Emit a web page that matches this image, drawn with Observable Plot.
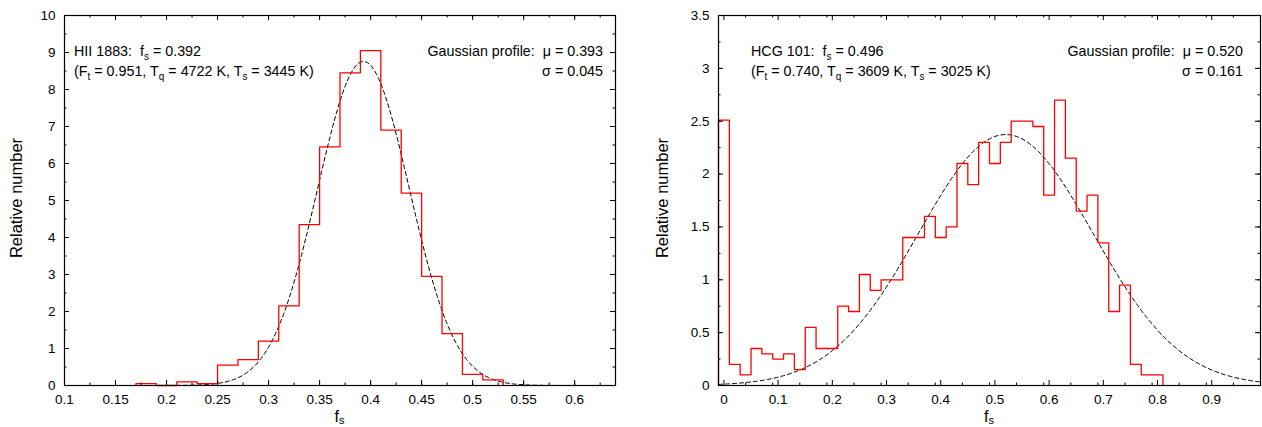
<!DOCTYPE html>
<html><head><meta charset="utf-8">
<script src="https://cdn.jsdelivr.net/npm/d3@7"></script>
<script src="https://cdn.jsdelivr.net/npm/@observablehq/plot@0.6"></script>
<style>
body{margin:0;background:#fff;}
#wrap{display:flex;width:1262px;height:427px;overflow:hidden;}
svg{font-family:"Liberation Sans",Arial,Helvetica,sans-serif;}
</style></head><body><div id="wrap"></div>
<script>
// ---------- Data: HII 1883 (left panel) ----------
const binWidth = 0.02;
const hiiBinLeft = [0.17,0.19,0.21,0.23,0.25,0.27,0.29,0.31,0.33,0.35,0.37,0.39,0.41,0.43,0.45,0.47,0.49,0.51];
const hiiValues  = [0.05,0,0.1,0.05,0.55,0.7,1.2,2.15,4.35,6.45,8.45,9.05,6.9,5.2,2.95,1.4,0.3,0.15];
const hiiGauss = {mu: 0.393, sigma: 0.045, peak: 8.76};
const hiiXTicks = [0.1,0.15,0.2,0.25,0.3,0.35,0.4,0.45,0.5,0.55,0.6];
const hiiYTicks = [0,1,2,3,4,5,6,7,8,9,10];

// ---------- Data: HCG 101 (right panel) ----------
const hcgBinLeft = [-0.01,0.01,0.03,0.05,0.07,0.09,0.11,0.13,0.15,0.17,0.19,0.21,0.23,0.25,0.27,0.29,0.31,0.33,0.35,0.37,0.39,0.41,0.43,0.45,0.47,0.49,0.51,0.53,0.55,0.57,0.59,0.61,0.63,0.65,0.67,0.69,0.71,0.73,0.75,0.77,0.79];
const hcgValues  = [2.51,0.2,0.1,0.35,0.3,0.25,0.3,0.15,0.55,0.35,0.35,0.75,0.7,1.05,0.9,1.0,1.0,1.4,1.4,1.6,1.4,1.5,2.1,1.9,2.3,2.1,2.3,2.5,2.5,2.45,1.8,2.7,2.15,1.65,1.8,1.35,0.7,0.95,0.2,0.1,0.1];
const hcgGauss = {mu: 0.520, sigma: 0.161, peak: 2.374};
const hcgXTicks = [0,0.1,0.2,0.3,0.4,0.5,0.6,0.7,0.8,0.9];
const hcgYTicks = [0,0.5,1,1.5,2,2.5,3,3.5];

// ---------- Text ----------
const hiiLine1 = [["HII 1883:  f"],["s",1],[" = 0.392"]];
const hiiLine2 = [["(F"],["t",1],[" = 0.951, T"],["q",1],[" = 4722 K, T"],["s",1],[" = 3445 K)"]];
const hiiFit1 = [["Gaussian profile:  \u03bc = 0.393"]];
const hiiFit2 = [["\u03c3 = 0.045"]];
const hcgLine1 = [["HCG 101:  f"],["s",1],[" = 0.496"]];
const hcgLine2 = [["(F"],["t",1],[" = 0.740, T"],["q",1],[" = 3609 K, T"],["s",1],[" = 3025 K)"]];
const hcgFit1 = [["Gaussian profile:  \u03bc = 0.520"]];
const hcgFit2 = [["\u03c3 = 0.161"]];
const yTitle = "Relative number";
const xTitle = [["f"],["s",1]];

function stepPoints(lefts, vals, w) {
  const pts = [{x: lefts[0], y: 0}];
  lefts.forEach((l, i) => pts.push({x: l, y: vals[i]}));
  const hi = lefts[lefts.length - 1] + w;
  pts.push({x: hi, y: vals[vals.length - 1]});
  pts.push({x: hi, y: 0});
  return pts;
}
function gaussPoints(g, [x0, x1]) {
  const n = 300;
  return d3.range(n + 1).map(i => {
    const x = x0 + (x1 - x0) * i / n;
    return {x, y: g.peak * Math.exp(-((x - g.mu) ** 2) / (2 * g.sigma ** 2))};
  });
}
function rich(sel, x, y, anchor, parts, size, subSize, shift = 4) {
  const t = sel.append("text").attr("x", x).attr("y", y).attr("text-anchor", anchor)
    .attr("font-size", size).attr("fill", "black").style("white-space", "pre");
  let shifted = false;
  for (const [s, sub] of parts) {
    const ts = t.append("tspan").text(s);
    if (sub && !shifted) { ts.attr("dy", shift).attr("font-size", subSize); shifted = true; }
    else if (!sub && shifted) { ts.attr("dy", -shift); shifted = false; }
  }
  return t;
}

function panel(o) {
  const height = 427, marginTop = 15, marginBottom = 42;
  const ih = height - marginTop - marginBottom;
  const iw = o.width - o.marginLeft - o.marginRight;
  const M = 5, m = 2.5;
  const xMinor = d3.range(o.xDomain[0], o.xDomain[1], o.xMinorStep).map(v => +v.toFixed(4))
    .filter(v => v >= o.xDomain[0] && v <= o.xDomain[1]);
  const yMinor = d3.range(o.yDomain[0], o.yDomain[1] + 1e-9, o.yMinorStep);
  const svg = Plot.plot({
    width: o.width, height, marginLeft: o.marginLeft, marginRight: o.marginRight,
    marginTop, marginBottom,
    x: {domain: o.xDomain}, y: {domain: o.yDomain},
    style: {fontSize: "13.5px", color: "black", background: "white", fontFamily: '"Liberation Sans",Arial,sans-serif'},
    marks: [
      Plot.line(gaussPoints(o.gauss, o.xDomain), {x: "x", y: "y", stroke: "black", strokeWidth: 1, strokeDasharray: "4,3"}),
      Plot.line(stepPoints(o.lefts, o.values, binWidth), {x: "x", y: "y", curve: "step-after", stroke: "#ff0000", strokeWidth: 1.3}),
      Plot.tickX(o.xTicks, {x: d => d, insetTop: ih - M, stroke: "black"}),
      Plot.tickX(o.xTicks, {x: d => d, insetBottom: ih - M, stroke: "black"}),
      Plot.tickX(xMinor, {x: d => d, insetTop: ih - m, stroke: "black"}),
      Plot.tickX(xMinor, {x: d => d, insetBottom: ih - m, stroke: "black"}),
      Plot.tickY(o.yTicks, {y: d => d, insetRight: iw - M, stroke: "black"}),
      Plot.tickY(o.yTicks, {y: d => d, insetLeft: iw - M, stroke: "black"}),
      Plot.tickY(yMinor, {y: d => d, insetRight: iw - m, stroke: "black"}),
      Plot.tickY(yMinor, {y: d => d, insetLeft: iw - m, stroke: "black"}),
      Plot.frame({stroke: "black", strokeWidth: 1.2}),
      Plot.axisX({ticks: o.xTicks, tickSize: 0, tickPadding: 9, tickFormat: d => String(d), label: null}),
      Plot.axisY({ticks: o.yTicks, tickSize: 0, tickPadding: 9, tickFormat: d => String(d), label: null})
    ]
  });
  const g = d3.select(svg).append("g");
  const fy = marginTop;
  rich(g, o.marginLeft + o.textInset, fy + 41, "start", o.line1, 14.3, 10);
  rich(g, o.marginLeft + o.textInset, fy + 61, "start", o.line2, 14.3, 10);
  rich(g, o.width - o.marginRight - o.fitInset, fy + 41, "end", o.fit1, 14.3, 10);
  rich(g, o.width - o.marginRight - o.fitInset, fy + 61, "end", o.fit2, 14.3, 10);
  rich(g, o.marginLeft + iw / 2, 421.5, "middle", xTitle, 16, 11, 2.5);
  g.append("text").attr("transform", `translate(${o.yTitleX},${marginTop + ih / 2 - 2}) rotate(-90)`)
    .attr("text-anchor", "middle").attr("font-size", 16.5).attr("fill", "black").text(yTitle);
  return svg;
}

const wrap = document.getElementById("wrap");
wrap.appendChild(panel({
  width: 640, marginLeft: 64, marginRight: 25,
  xDomain: [0.1, 0.64], yDomain: [0, 10], xMinorStep: 0.025, yMinorStep: 0.5,
  xTicks: hiiXTicks, yTicks: hiiYTicks, lefts: hiiBinLeft, values: hiiValues, gauss: hiiGauss,
  line1: hiiLine1, line2: hiiLine2, fit1: hiiFit1, fit2: hiiFit2,
  textInset: 10, fitInset: 12, yTitleX: 22
}));
wrap.appendChild(panel({
  width: 622, marginLeft: 78, marginRight: 2,
  xDomain: [-0.01, 0.99], yDomain: [0, 3.5], xMinorStep: 0.05, yMinorStep: 0.25,
  xTicks: hcgXTicks, yTicks: hcgYTicks, lefts: hcgBinLeft, values: hcgValues, gauss: hcgGauss,
  line1: hcgLine1, line2: hcgLine2, fit1: hcgFit1, fit2: hcgFit2,
  textInset: 33, fitInset: 17, yTitleX: 28
}));
</script></body></html>
